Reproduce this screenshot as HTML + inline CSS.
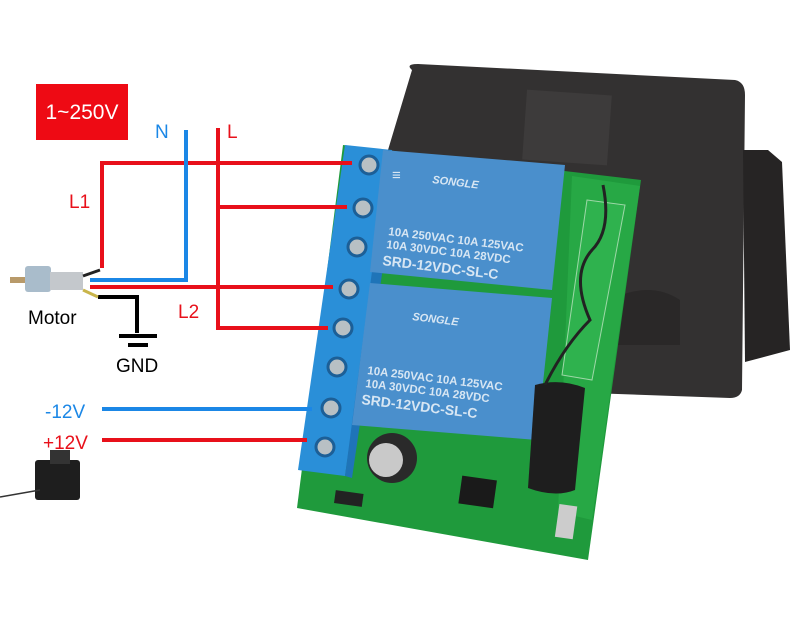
<!DOCTYPE html>
<html><head><meta charset="utf-8"><style>
html,body{margin:0;padding:0;background:#fff;}
svg{display:block;}
text{font-family:"Liberation Sans",Arial,sans-serif;}
</style></head><body>
<svg width="800" height="642" viewBox="0 0 800 642" xmlns="http://www.w3.org/2000/svg">
<rect width="800" height="642" fill="#ffffff"/>
<!-- black enclosure -->
<path d="M412,70 Q405,64 418,64 L735,80 Q745,82 745,95 L742,390 Q740,398 730,398 L560,392 L388,150 Z" fill="#333131"/>
<path d="M743,150 L768,150 L782,162 L790,350 L745,362 Z" fill="#262424"/>
<rect x="525" y="92" width="85" height="70" fill="#3d3b3b" transform="rotate(4 560 120)"/>
<path d="M610,300 Q650,280 680,300 L680,345 L610,345 Z" fill="#2a2828"/>
<!-- PCB -->
<polygon points="343,145 641,180 588,560 297,508" fill="#1f9a3c"/>
<polygon points="572,176 640,186 592,520 558,512" fill="#27a845"/>
<polygon points="587,200 625,205 592,380 562,375" fill="#2fb24e" stroke="#9ed8a8" stroke-width="1"/>
<!-- terminal block -->
<polygon points="345,145 392,150 345,476 298,470" fill="#2a8fd8"/>
<polygon points="388,150 400,152 352,478 345,476" fill="#1f74b8"/>
<g fill="#b8c0c4" stroke="#1c5f97" stroke-width="3">
<circle cx="369" cy="165" r="9"/>
<circle cx="363" cy="208" r="9"/>
<circle cx="357" cy="247" r="9"/>
<circle cx="349" cy="289" r="9"/>
<circle cx="343" cy="328" r="9"/>
<circle cx="337" cy="367" r="9"/>
<circle cx="331" cy="408" r="9"/>
<circle cx="325" cy="447" r="9"/>
</g>
<!-- relays -->
<polygon points="383,150 565,165 552,290 370,272" fill="#4a8fcc"/>
<polygon points="370,283 552,298 537,440 352,425" fill="#4a8fcc"/>
<g fill="#d7e6f3" font-weight="bold">
<text x="392" y="180" font-size="15" >≡</text>
<text x="432" y="183" font-size="11" font-style="italic" transform="rotate(7 432 183)">SONGLE</text>
<text x="388" y="235" font-size="11.5" transform="rotate(7 388 235)">10A 250VAC 10A 125VAC</text>
<text x="386" y="248" font-size="11.5" transform="rotate(7 386 248)">10A  30VDC 10A  28VDC</text>
<text x="382" y="265" font-size="14" transform="rotate(7 382 265)">SRD-12VDC-SL-C</text>
<text x="412" y="320" font-size="11" font-style="italic" transform="rotate(7 412 320)">SONGLE</text>
<text x="367" y="374" font-size="11.5" transform="rotate(7 367 374)">10A 250VAC 10A 125VAC</text>
<text x="365" y="387" font-size="11.5" transform="rotate(7 365 387)">10A  30VDC 10A  28VDC</text>
<text x="361" y="404" font-size="14" transform="rotate(7 361 404)">SRD-12VDC-SL-C</text>
</g>
<!-- capacitor, chip, antenna -->
<circle cx="392" cy="458" r="25" fill="#2a2a2a"/>
<circle cx="386" cy="460" r="17" fill="#c9c9c9"/>
<rect x="460" y="478" width="35" height="28" fill="#1a1a1a" transform="rotate(8 478 493)"/>
<path d="M535,385 Q560,378 585,388 L575,490 Q555,498 528,488 Z" fill="#1e1e1e"/>
<path d="M603,185 Q612,230 592,250 Q570,275 590,320 Q565,345 545,385" fill="none" stroke="#222" stroke-width="3"/>
<rect x="335" y="492" width="28" height="13" fill="#222" transform="rotate(8 349 497)"/>
<rect x="557" y="505" width="18" height="33" fill="#ccc" transform="rotate(8 565 522)"/>
<!-- wires -->
<g fill="none" stroke-width="4">
<path d="M102,268 L102,163 L352,163" stroke="#e8101a"/>
<path d="M218,128 L218,328 L328,328" stroke="#e8101a"/>
<path d="M218,207 L347,207" stroke="#e8101a"/>
<path d="M186,130 L186,280 L90,280" stroke="#1b87e6"/>
<path d="M90,287 L333,287" stroke="#e8101a"/>
<path d="M98,297 L137,297 L137,333" stroke="#000"/>
<path d="M102,409 L312,409" stroke="#1b87e6"/>
<path d="M102,440 L307,440" stroke="#e8101a"/>
</g>
<line x1="119" y1="336" x2="157" y2="336" stroke="#000" stroke-width="4"/>
<line x1="128" y1="345" x2="148" y2="345" stroke="#000" stroke-width="4"/>
<!-- motor -->
<rect x="10" y="277" width="16" height="6" fill="#b89a6a"/>
<rect x="25" y="266" width="26" height="26" rx="3" fill="#a9bccb"/>
<rect x="50" y="272" width="33" height="18" fill="#c4c8cc"/>
<path d="M83,276 L100,270" stroke="#222" stroke-width="3"/>
<path d="M83,290 L98,297" stroke="#c9b54a" stroke-width="3"/>
<!-- remote -->
<rect x="35" y="460" width="45" height="40" rx="3" fill="#1e1e1e"/>
<rect x="50" y="450" width="20" height="14" fill="#333"/>
<path d="M40,490 L0,497" stroke="#333" stroke-width="1.5"/>
<!-- labels -->
<rect x="36" y="84" width="92" height="56" fill="#ee0a14"/>
<text x="82" y="119" font-size="21" fill="#fff" text-anchor="middle">1~250V</text>
<text x="155" y="138" font-size="19" fill="#1b87e6">N</text>
<text x="227" y="138" font-size="19" fill="#e8101a">L</text>
<text x="69" y="208" font-size="19" fill="#e8101a">L1</text>
<text x="178" y="318" font-size="19" fill="#e8101a">L2</text>
<text x="28" y="324" font-size="19" fill="#000">Motor</text>
<text x="116" y="372" font-size="19" fill="#000">GND</text>
<text x="45" y="418" font-size="19" fill="#1b87e6">-12V</text>
<text x="43" y="449" font-size="19" fill="#e8101a">+12V</text>
</svg>
</body></html>
